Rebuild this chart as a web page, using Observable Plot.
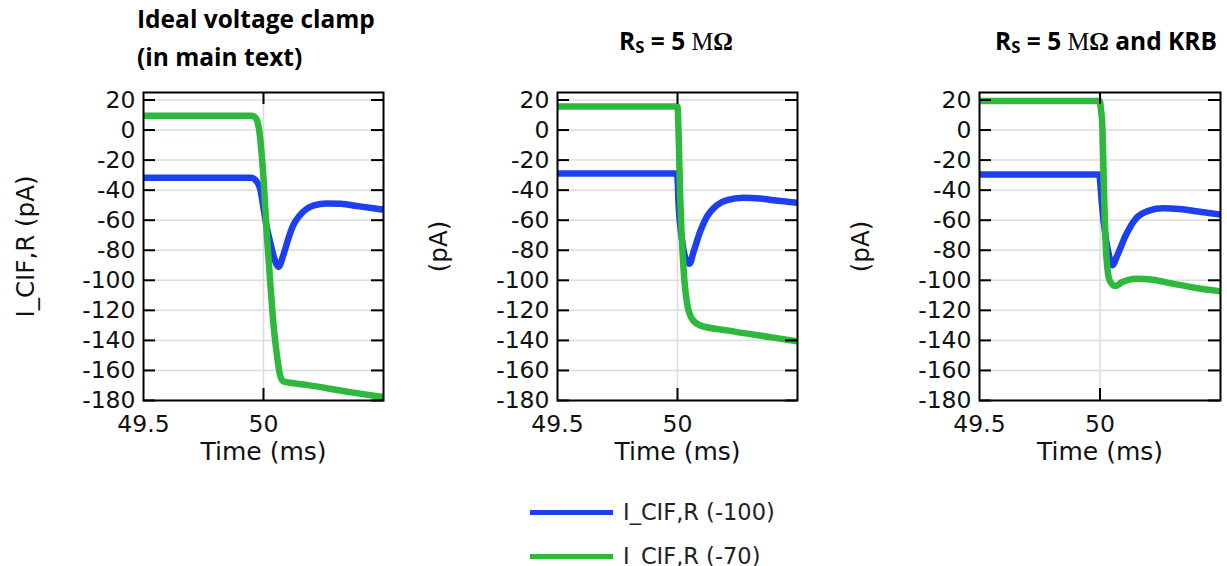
<!DOCTYPE html>
<html>
<head>
<meta charset="utf-8">
<script src="https://cdn.jsdelivr.net/npm/d3@7"></script>
<script src="https://cdn.jsdelivr.net/npm/@observablehq/plot@0.6"></script>
<style>
  html, body { margin: 0; padding: 0; background: #fff; }
  #wrap { position: relative; width: 1227px; height: 566px; overflow: hidden; font-family: "DejaVu Sans", sans-serif; color: #111; }
  .panel { position: absolute; top: 80px; }
  .title { position: absolute; font-family: "Open Sans", Lato, sans-serif; font-weight: 700; font-size: 24.5px; line-height: 38px; color: #000; white-space: nowrap; }
  .serif { font-family: "Liberation Serif", serif; }
  .sub { font-size: 0.68em; position: relative; top: 0.18em; }
  .leg-line { position: absolute; left: 530px; width: 83px; height: 5px; }
  .leg-text { position: absolute; left: 623px; font-family: "DejaVu Sans", sans-serif; font-size: 22.5px; line-height: 26px; color: #222; white-space: nowrap; }
</style>
</head>
<body>
<div id="wrap">
  <div class="title" style="left:137px; top:0px;">Ideal voltage clamp<br>(in main text)</div>
  <div class="title" style="left:526px; top:22px; width:300px; text-align:center;">R<span class="sub">S</span> = 5 <span class="serif" style="font-weight:400">M</span><span class="serif">Ω</span></div>
  <div class="title" style="left:956px; top:22px; width:300px; text-align:center;">R<span class="sub">S</span> = 5 <span class="serif" style="font-weight:400">M</span><span class="serif">Ω</span> and KRB</div>
  <div id="p1" class="panel" style="left:0px;"></div>
  <div id="p2" class="panel" style="left:410px;"></div>
  <div id="p3" class="panel" style="left:830px;"></div>
  <div class="leg-line" id="legBlue" style="top:510px;"></div>
  <div class="leg-text" style="top:499px;">I_CIF,R (-100)</div>
  <div class="leg-line" id="legGreen" style="top:554px;"></div>
  <div class="leg-text" style="top:543px;">I_CIF,R (-70)</div>
</div>
<script>
// ---- Data ----
const yTicks = [20, 0, -20, -40, -60, -80, -100, -120, -140, -160, -180];
const xTickLabels = [49.5, 50];
const xTickMarks = [50];
const seriesNames = ["I_CIF,R (-100)", "I_CIF,R (-70)"];
const colors = ["#1d3ff0", "#2eb83c"];

// Panel 1: Ideal voltage clamp
const idealT100 = [49.5, 49.95, 49.965, 49.986, 50.0, 50.014, 50.03, 50.045, 50.0625, 50.083, 50.104, 50.125, 50.15, 50.18, 50.21, 50.264, 50.32, 50.4, 50.5];
const idealI100 = [-31.8, -31.8, -33, -39, -52, -65, -76, -85.5, -91, -83, -72, -63, -57, -52.5, -50.2, -48.9, -49.1, -50.8, -53];
const idealT70 = [49.5, 49.95, 49.965, 49.975, 49.983, 49.989, 50.0, 50.014, 50.028, 50.042, 50.056, 50.069, 50.083, 50.18, 50.36, 50.5];
const idealI70 = [9.6, 9.6, 8.5, 5.5, -1, -10, -32, -70, -101, -130, -150, -163, -167.3, -169.6, -174.4, -177.8];

// Panel 2: Rs = 5 MΩ
const rsT100 = [49.5, 49.995, 50.0, 50.004, 50.018, 50.035, 50.05, 50.067, 50.094, 50.122, 50.164, 50.206, 50.275, 50.344, 50.4, 50.5];
const rsI100 = [-28.9, -28.9, -32, -47.8, -72, -86, -89, -81, -67.8, -57.8, -50, -46.7, -45.1, -45.6, -46.7, -48.4];
const rsT70 = [49.5, 50.0, 50.005, 50.011, 50.025, 50.039, 50.06, 50.094, 50.206, 50.386, 50.5];
const rsI70 = [15.6, 15.6, -5, -43.3, -92, -114.4, -125.6, -130, -133.3, -137.8, -140.7];

// Panel 3: Rs = 5 MΩ and KRB
const krbT100 = [49.5, 49.996, 50.0, 50.007, 50.024, 50.04, 50.051, 50.072, 50.107, 50.149, 50.204, 50.26, 50.329, 50.399, 50.5];
const krbI100 = [-29.5, -29.5, -33, -47.8, -72.2, -85, -90, -83.3, -70, -58.9, -53.6, -52.1, -52.6, -54, -56.2];
const krbT70 = [49.5, 49.999, 50.003, 50.01, 50.017, 50.026, 50.04, 50.0625, 50.093, 50.149, 50.218, 50.301, 50.399, 50.5];
const krbI70 = [19.3, 19.3, 15, 1.1, -43.3, -83.3, -100, -103.8, -101.1, -98.9, -99.6, -102.2, -105.1, -107.3];

const yLabels = ["I_CIF,R (pA)", "(pA)", "(pA)"];
const xLabel = "Time (ms)";

function toRows(t, v) { return t.map((d, i) => ({t: d, v: v[i]})); }

function panel({W, mL, mR, t100, i100, t70, i70, ylabel, yOff}) {
  const H = 390, mT = 12, mB = 70;
  const innerW = W - mL - mR, innerH = H - mT - mB;
  const tick = 12;
  return Plot.plot({
    width: W, height: H,
    marginLeft: mL, marginRight: mR, marginTop: mT, marginBottom: mB,
    x: {domain: [49.5, 50.5]},
    y: {domain: [-180, 25]},
    style: {fontFamily: "DejaVu Sans", fontSize: "23px", color: "#111", background: "transparent", overflow: "visible"},
    marks: [
      Plot.ruleY(yTicks, {stroke: "#dcdcdc", strokeWidth: 1.5}),
      Plot.ruleX(xTickMarks, {stroke: "#dcdcdc", strokeWidth: 1.5}),
      Plot.line(toRows(t100, i100), {x: "t", y: "v", stroke: colors[0], strokeWidth: 6.5, curve: "monotone-x", clip: true}),
      Plot.line(toRows(t70, i70), {x: "t", y: "v", stroke: colors[1], strokeWidth: 6.5, curve: "monotone-x", clip: true}),
      Plot.ruleY(yTicks, {insetRight: innerW - tick, stroke: "#000", strokeWidth: 2}),
      Plot.ruleY(yTicks, {insetLeft: innerW - tick, stroke: "#000", strokeWidth: 2}),
      Plot.ruleX(xTickMarks, {insetBottom: innerH - tick, stroke: "#000", strokeWidth: 2}),
      Plot.ruleX(xTickMarks, {insetTop: innerH - tick, stroke: "#000", strokeWidth: 2}),
      Plot.axisY({ticks: yTicks, tickSize: 0, tickPadding: 8, tickFormat: d => String(d), fontSize: 23.5, label: null}),
      Plot.axisY({ticks: [], tickSize: 0, fontSize: 24.5,
        label: ylabel, labelAnchor: "center", labelArrow: "none", labelOffset: yOff}),
      Plot.axisX({ticks: xTickLabels, tickSize: 0, tickPadding: 15, tickFormat: d => String(d), fontSize: 23.5, label: null}),
      Plot.axisX({ticks: [], tickSize: 0, fontSize: 25,
        label: xLabel, labelAnchor: "center", labelArrow: "none", labelOffset: 59}),
      Plot.frame({stroke: "#000", strokeWidth: 2})
    ]
  });
}

document.getElementById("p1").appendChild(panel({W: 400, mL: 143, mR: 17, t100: idealT100, i100: idealI100, t70: idealT70, i70: idealI70, ylabel: yLabels[0], yOff: 127}));
document.getElementById("p2").appendChild(panel({W: 400, mL: 147, mR: 13, t100: rsT100, i100: rsI100, t70: rsT70, i70: rsI70, ylabel: yLabels[1], yOff: 128}));
document.getElementById("p3").appendChild(panel({W: 397, mL: 149, mR: 7, t100: krbT100, i100: krbI100, t70: krbT70, i70: krbI70, ylabel: yLabels[2], yOff: 128}));

document.getElementById("legBlue").style.background = colors[0];
document.getElementById("legGreen").style.background = colors[1];
</script>
</body>
</html>
